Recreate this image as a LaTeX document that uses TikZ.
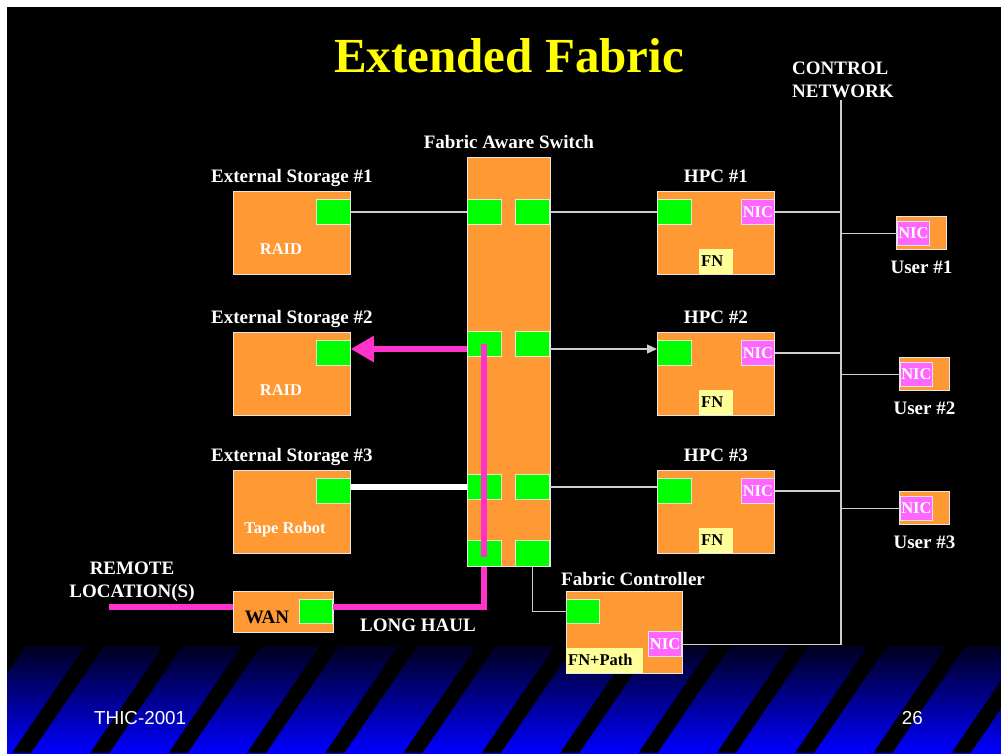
\documentclass[tikz,border=0pt]{standalone}
\usepackage{fontspec}
\setmainfont{Liberation Serif}
\newfontfamily\slidesans{Liberation Sans}
\usetikzlibrary{positioning,arrows.meta}

\definecolor{slideorange}{RGB}{255,153,51}
\definecolor{portgreen}{RGB}{0,255,0}
\definecolor{nicpink}{RGB}{255,102,255}
\definecolor{fnyellow}{RGB}{255,255,153}
\definecolor{haulpink}{RGB}{255,51,204}
\definecolor{wiregrey}{RGB}{205,205,205}
\definecolor{edge}{RGB}{230,230,230}
\definecolor{portedge}{RGB}{215,240,215}
\definecolor{titleyellow}{RGB}{255,255,0}
\definecolor{bandtop}{RGB}{0,0,30}
\definecolor{bandblue}{RGB}{0,0,255}

\newcommand{\slidetitlefont}{\fontsize{49}{55}\selectfont\bfseries}
\newcommand{\lblfont}{\fontsize{19}{22.5}\selectfont\bfseries}
\newcommand{\inlblfont}{\fontsize{16.5}{19}\selectfont\bfseries}
\newcommand{\slidefootfont}{\slidesans\fontsize{18.8}{22}\selectfont}

\tikzset{
    unit/.style={
        draw=edge, fill=slideorange, line width=0.8pt,
        inner sep=0pt, anchor=north west
    },
    port/.style={
        draw=portedge, fill=portgreen, line width=0.8pt,
        inner sep=0pt, minimum width=34pt, minimum height=25pt
    },
    nic/.style={
        draw=edge, fill=nicpink, line width=0.8pt, inner sep=0pt,
        minimum width=33pt, minimum height=25pt,
        text=white, font=\inlblfont
    },
    fn/.style={
        fill=fnyellow, inner sep=2pt, minimum height=25pt,
        align=left, text=black, font=\inlblfont
    },
    lbl/.style={text=white, font=\lblfont, inner sep=0pt},
    inlbl/.style={text=white, font=\inlblfont, inner sep=0pt},
    foot/.style={text=white, font=\slidefootfont, inner sep=0pt},
    wire/.style={draw=wiregrey, line width=1.2pt},
    haul/.style={draw=haulpink, line width=5.5pt}
}

\begin{document}
\begin{tikzpicture}[x=1pt, y=-1pt]
    \useasboundingbox (0,0) rectangle (1001,753);

    % slide background
    \fill[white] (0,0) rectangle (1001,753);
    \fill[black] (7,7) rectangle (1001,646);
    \shade[top color=bandtop, bottom color=bandblue] (7,646) rectangle (1001,753);
    \begin{scope}
        \clip (7,646) rectangle (1001,753);
        \foreach \k in {-1,...,12}
            \fill[black] (12+78.3*\k,753) -- ++(19,0) -- ++(73,-107) -- ++(-19,0) -- cycle;
    \end{scope}

    \node[text=titleyellow, font=\slidetitlefont, anchor=base, inner sep=0pt] (title) at (509,72) {Extended Fabric};
    \node[lbl, align=left, anchor=north west] (ctrllbl) at (792,62) {CONTROL\\NETWORK};

    % storage side
    \foreach \i/\top/\what/\cx in {1/191/RAID/281, 2/332/RAID/281, 3/470/Tape Robot/285} {
        \node[unit, minimum width=117pt, minimum height=83pt] (es\i) at (233,\top) {};
        \node[port, anchor=north east] (esp\i) at ([yshift=-8pt]es\i.north east) {};
        \node[lbl, anchor=base] (eslbl\i) at ([yshift=9pt]es\i.north) {External Storage \#\i};
        \node[inlbl, anchor=base] (esin\i) at (\cx,\top+63) {\what};
    }

    % switch
    \node[unit, minimum width=83pt, minimum height=409pt] (sw) at (467,157) {};
    \node[lbl, anchor=base] (swlbl) at ([yshift=9pt]sw.north) {Fabric Aware Switch};
    \foreach \r/\y/\h in {1/199/25, 2/331/25, 3/474/25, 4/540/26} {
        \node[port, anchor=north west, minimum height=\h pt] (swl\r) at (467,\y) {};
        \node[port, anchor=north east, minimum height=\h pt] (swr\r) at (550,\y) {};
    }

    % compute nodes
    \foreach \i/\top in {1/191, 2/332, 3/470} {
        \node[unit, minimum width=117pt, minimum height=83pt] (hpc\i) at (657,\top) {};
        \node[port, anchor=north west] (hpcp\i) at ([yshift=-8pt]hpc\i.north west) {};
        \node[nic, anchor=north east] (hpcn\i) at ([yshift=-8pt]hpc\i.north east) {NIC};
        \node[fn, anchor=south west, text width=30pt] (hpcf\i) at (699,\top+83) {FN};
        \node[lbl, anchor=base] (hpclbl\i) at ([yshift=9pt]hpc\i.north) {HPC \#\i};
    }

    % users
    \foreach \i/\x/\top in {1/896/216, 2/899/357, 3/899/491} {
        \node[unit, minimum width=50pt, minimum height=33pt] (user\i) at (\x,\top) {};
        \node[nic, anchor=north west, minimum width=32pt, minimum height=24pt] (usern\i) at (\x+1,\top+5) {NIC};
        \node[lbl, anchor=base] (userlbl\i) at ([yshift=-24pt]user\i.south) {User \#\i};
    }

    % WAN and controller
    \node[unit, minimum width=100pt, minimum height=41pt] (wan) at (233,591) {};
    \node[port, anchor=north east, minimum width=33pt, minimum height=24pt] (wanp) at (333,599) {};
    \node[lbl, text=black, anchor=base] (wanlbl) at (267,623) {WAN};

    \node[unit, minimum width=116pt, minimum height=82pt] (fc) at (566,591) {};
    \node[port, anchor=north west, minimum width=33pt, minimum height=24pt] (fcp) at (566,599) {};
    \node[nic, anchor=south east] (fcn) at (682,657) {NIC};
    \node[fn, anchor=south west, text width=73pt] (fcf) at (566,673) {FN+Path};
    \node[lbl, anchor=base] (fclbl) at (633,585) {Fabric Controller};

    \node[lbl, anchor=base] (haullbl) at (418,631) {LONG HAUL};
    \node[lbl, align=center, anchor=north] (remotelbl) at (132,562) {REMOTE\\LOCATION(S)};

    % connections
    \coordinate (busTop) at (841,100);
    \coordinate (haulArm) at (484,349);
    \coordinate (haulTop) at (484,344);
    \coordinate (haulLow) at (484,557);
    \coordinate (haulBend) at (484,607);
    \coordinate (remote) at (109,607);

    \draw[wire] (esp1.east) -- (swl1.west);
    \draw[wire] (swr1.east) -- (hpcp1.west);
    \draw[wire, -{Triangle[length=10pt,width=9pt]}] (haulArm -| swr2.east) -- (haulArm -| hpcp2.west);
    \draw[wire] (swr3.east) -- (swr3.east -| hpcp3.west);
    \foreach \i in {1,2,3} {
        \draw[wire] (hpcn\i.east) -- (hpcn\i.east -| busTop);
        \draw[wire] (usern\i.west -| busTop) -- (usern\i.west);
    }
    \draw[wire] (busTop) -- (busTop |- fcn.east) -- (fcn.east);
    \draw[wire] (swr4.south) |- (fcp.west);
    \draw[white, line width=6pt] (swl3.west -| esp3.east) -- (swl3.west);

    \draw[haul] (remote) -- (remote -| wan.west);
    \draw[haul] (wanp.east |- haulBend) -- (haulBend) -- (haulBend |- sw.south);
    \draw[haul] (haulLow) -- (haulTop);
    \draw[haul, -{Triangle[length=23pt,width=25pt]}] (haulArm -| sw.west) -- (haulArm -| esp2.east);

    % footer
    \node[foot, anchor=base west] (thic) at (94,724) {THIC-2001};
    \node[foot, anchor=base east] (pageno) at (923,724) {26};
\end{tikzpicture}
\end{document}
